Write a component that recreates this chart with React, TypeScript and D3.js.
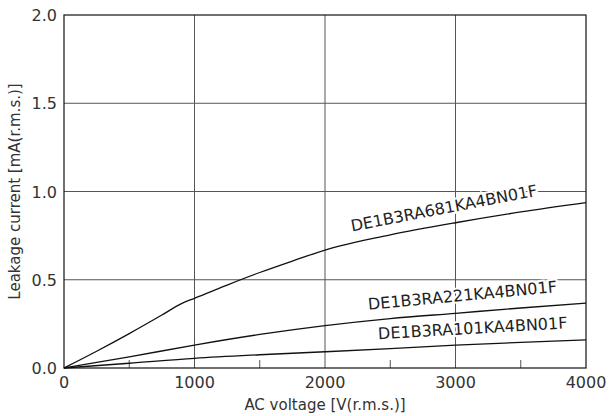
import React from "react";
import * as d3 from "d3";

const xTicks = [0, 1000, 2000, 3000, 4000];
const xMinorTicks = [500, 1500, 2500, 3500];
const yTicks = [0, 0.5, 1.0, 1.5, 2.0];

const voltage681 = [0, 250, 500, 750, 900, 1000, 1250, 1500, 1750, 2000, 2500, 3000, 3500, 4000];
const current681 = [0, 0.095, 0.195, 0.3, 0.365, 0.395, 0.47, 0.541, 0.606, 0.668, 0.754, 0.823, 0.884, 0.937];

const voltage221 = [0, 500, 1000, 1500, 2000, 2500, 3000, 3500, 4000];
const current221 = [0, 0.063, 0.13, 0.19, 0.24, 0.28, 0.31, 0.34, 0.367];

const voltage101 = [0, 500, 1000, 1500, 2000, 2500, 3000, 3500, 4000];
const current101 = [0, 0.027, 0.055, 0.075, 0.092, 0.11, 0.13, 0.145, 0.159];

const seriesNames = ["DE1B3RA681KA4BN01F", "DE1B3RA221KA4BN01F", "DE1B3RA101KA4BN01F"];
const labelVoltage = [2920, 3057, 3134];
const labelCurrent = [0.875, 0.38, 0.194];
const labelAngle = [-10.9, -5.4, -3.3];

const W = 609, H = 416;
const M = { left: 64, right: 23, top: 15, bottom: 48 };
const FONT = "'DejaVu Sans', sans-serif";

export default function App() {
  const x = d3.scaleLinear().domain([0, 4000]).range([M.left, W - M.right]);
  const y = d3.scaleLinear().domain([0, 2]).range([H - M.bottom, M.top]);
  const line = d3
    .line<[number, number]>()
    .x((d) => x(d[0]))
    .y((d) => y(d[1]))
    .curve(d3.curveMonotoneX);
  const series = [
    voltage681.map((v, i) => [v, current681[i]] as [number, number]),
    voltage221.map((v, i) => [v, current221[i]] as [number, number]),
    voltage101.map((v, i) => [v, current101[i]] as [number, number]),
  ];
  const x0 = x(0), x1 = x(4000), y0 = y(0), y1 = y(2);
  return (
    <svg width={W} height={H} style={{ position: "absolute", left: 0, top: 0, background: "#fff" }} fontFamily={FONT}>
      <rect x={0} y={0} width={W} height={H} fill="#fff" />
      {xTicks.slice(1, -1).map((t) => (
        <line key={"gx" + t} x1={x(t)} x2={x(t)} y1={y0} y2={y1} stroke="#555" strokeWidth={1} />
      ))}
      {yTicks.slice(1, -1).map((t) => (
        <line key={"gy" + t} x1={x0} x2={x1} y1={y(t)} y2={y(t)} stroke="#555" strokeWidth={1} />
      ))}
      {xMinorTicks.map((t) => (
        <line key={"mx" + t} x1={x(t)} x2={x(t)} y1={y0} y2={y0 - 8} stroke="#555" strokeWidth={1} />
      ))}
      {series.map((s, i) => (
        <path key={"s" + i} d={line(s) || ""} fill="none" stroke="#111" strokeWidth={1.3} />
      ))}
      {seriesNames.map((n, i) => (
        <text
          key={"l" + i}
          transform={`translate(${x(labelVoltage[i])},${y(labelCurrent[i])}) rotate(${labelAngle[i]})`}
          textAnchor="middle"
          fontSize={16}
          fill="#222"
          stroke="#fff"
          strokeWidth={4}
          paintOrder="stroke"
        >
          {n}
        </text>
      ))}
      <rect x={x0} y={y1} width={x1 - x0} height={y0 - y1} fill="none" stroke="#111" strokeWidth={1.2} />
      {xTicks.map((t) => (
        <text key={"xt" + t} x={x(t)} y={y0 + 20} textAnchor="middle" fontSize={16} fill="#333">
          {t}
        </text>
      ))}
      {yTicks.map((t) => (
        <text key={"yt" + t} x={x0 - 7} y={y(t) + 6} textAnchor="end" fontSize={16} fill="#333">
          {t.toFixed(1)}
        </text>
      ))}
      <text x={(x0 + x1) / 2} y={410} textAnchor="middle" fontSize={15} fill="#333">
        AC voltage [V(r.m.s.)]
      </text>
      <text transform={`translate(20,${(y0 + y1) / 2}) rotate(-90)`} textAnchor="middle" fontSize={15} fill="#333">
        Leakage current [mA(r.m.s.)]
      </text>
    </svg>
  );
}
